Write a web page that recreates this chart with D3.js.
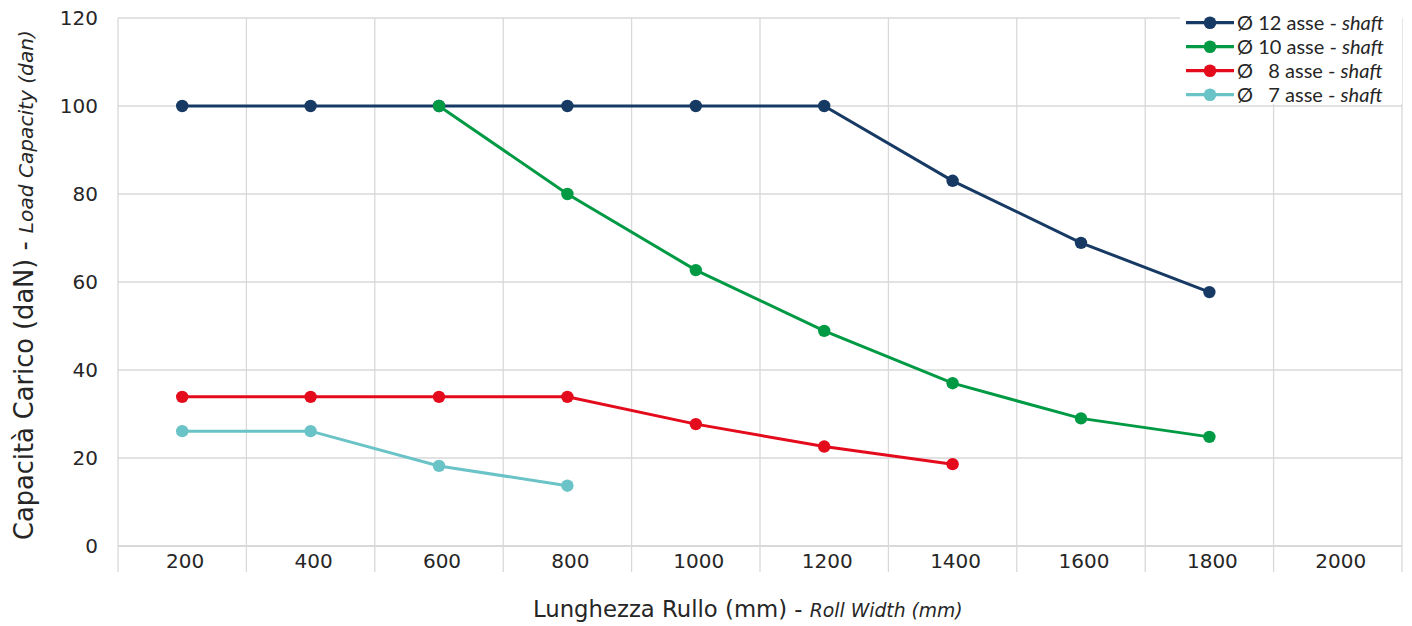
<!DOCTYPE html>
<html><head><meta charset="utf-8">
<script src="https://cdn.jsdelivr.net/npm/d3@7"></script>
<style>body{margin:0;background:#fff}svg{display:block}</style>
</head><body>
<script>
const categories = [200,400,600,800,1000,1200,1400,1600,1800,2000];
const yTicks = [0,20,40,60,80,100,120];
const seriesNames = ["Ø 12 asse - ", "Ø 10 asse - ", "Ø   8 asse - ", "Ø   7 asse - "];
const seriesColors = ["#173a64", "#009a44", "#e30b1c", "#6ac3c6"];
const s12 = [[200,100],[400,100],[600,100],[800,100],[1000,100],[1200,100],[1400,83],[1600,68.9],[1800,57.7]];
const s10 = [[600,100],[800,80],[1000,62.7],[1200,48.9],[1400,37],[1600,29],[1800,24.8]];
const s8  = [[200,33.9],[400,33.9],[600,33.9],[800,33.9],[1000,27.7],[1200,22.6],[1400,18.6]];
const s7  = [[200,26.1],[400,26.1],[600,18.2],[800,13.7]];
const series = [s12, s10, s8, s7];

const W = 1412, H = 626;
const L = 118, R = 1402, T = 18, B = 546;
const svg = d3.select("body").append("svg").attr("width", W).attr("height", H);
const x = d3.scaleBand().domain(categories).range([L, R]).padding(0);
const y = d3.scaleLinear().domain([0,120]).range([B, T]);
const grid = "#d9d9d9";
const tickFont = "'DejaVu Sans', sans-serif";
const txt = "#262626";

function fit(sel, target){
  const l = sel.node().getComputedTextLength();
  const fs = +sel.attr("font-size");
  sel.attr("font-size", fs*target/l);
}

// horizontal grid
svg.append("g").selectAll("line").data(yTicks).join("line")
  .attr("x1", L).attr("x2", R).attr("y1", d=>y(d)).attr("y2", d=>y(d))
  .attr("stroke", grid).attr("stroke-width", d=>d===0?2:1.3);
// vertical grid at band boundaries
const bounds = categories.map(c=>x(c)).concat([x(categories[categories.length-1])+x.bandwidth()]);
svg.append("g").selectAll("line").data(bounds).join("line")
  .attr("x1", d=>d).attr("x2", d=>d).attr("y1", T).attr("y2", B+26)
  .attr("stroke", grid).attr("stroke-width", 1.3);

// y tick labels
svg.append("g").selectAll("text").data(yTicks).join("text")
  .attr("x", 98).attr("y", d=>y(d)).attr("dy","0.36em").attr("text-anchor","end")
  .attr("font-family", tickFont).attr("font-size", 20).attr("fill",txt).text(d=>d);
// x tick labels
svg.append("g").selectAll("text").data(categories).join("text")
  .attr("x", d=>x(d)+x.bandwidth()/2+3).attr("y", 561).attr("dy","0.36em").attr("text-anchor","middle")
  .attr("font-family", tickFont).attr("font-size", 20).attr("fill",txt).text(d=>d);

// axis titles
const xt = svg.append("text").attr("x", 533).attr("y", 617).attr("text-anchor","start")
  .attr("font-family", tickFont).attr("fill",txt).style("white-space","pre");
const xn = xt.append("tspan").attr("font-size", 21).text("Lunghezza Rullo (mm) - ");
const xi = xt.append("tspan").attr("font-size", 16).attr("font-style","italic").text("Roll Width (mm)");
fit(xn, 277); fit(xi, 153);

const yt = svg.append("text").attr("transform","translate(33,540) rotate(-90)").attr("text-anchor","start")
  .attr("font-family", tickFont).attr("fill",txt).style("white-space","pre");
const yn = yt.append("tspan").attr("font-size", 21).text("Capacità Carico (daN) - ");
const yi = yt.append("tspan").attr("font-size", 16).attr("font-style","italic").text("Load Capacity (dan)");
fit(yn, 307); fit(yi, 203);

// series
const cx = d=>x(d[0])+x.bandwidth()/2;
const line = d3.line().x(cx).y(d=>y(d[1]));
series.forEach((s,i)=>{
  const g = svg.append("g");
  g.append("path").attr("d", line(s)).attr("fill","none").attr("stroke", seriesColors[i]).attr("stroke-width",3);
  g.selectAll("circle").data(s).join("circle").attr("cx", cx).attr("cy", d=>y(d[1])).attr("r",6.2).attr("fill", seriesColors[i]);
});

// legend
const lg = svg.append("g");
lg.append("rect").attr("x",1180).attr("y",0).attr("width",222).attr("height",104).attr("fill","#fff");
seriesNames.forEach((n,i)=>{
  const yy = 22.7 + i*24;
  lg.append("line").attr("x1",1186).attr("x2",1234).attr("y1",yy).attr("y2",yy).attr("stroke",seriesColors[i]).attr("stroke-width",3.3);
  lg.append("circle").attr("cx",1210).attr("cy",yy).attr("r",6.3).attr("fill",seriesColors[i]);
  const t = lg.append("text").attr("x",1237).attr("y",yy).attr("dy","0.35em")
    .attr("font-family","Lato, 'Open Sans', sans-serif").attr("font-size",20).attr("fill",txt)
    .style("white-space","pre");
  t.append("tspan").text(n);
  t.append("tspan").attr("font-style","italic").text("shaft");
});
</script>
</body></html>
